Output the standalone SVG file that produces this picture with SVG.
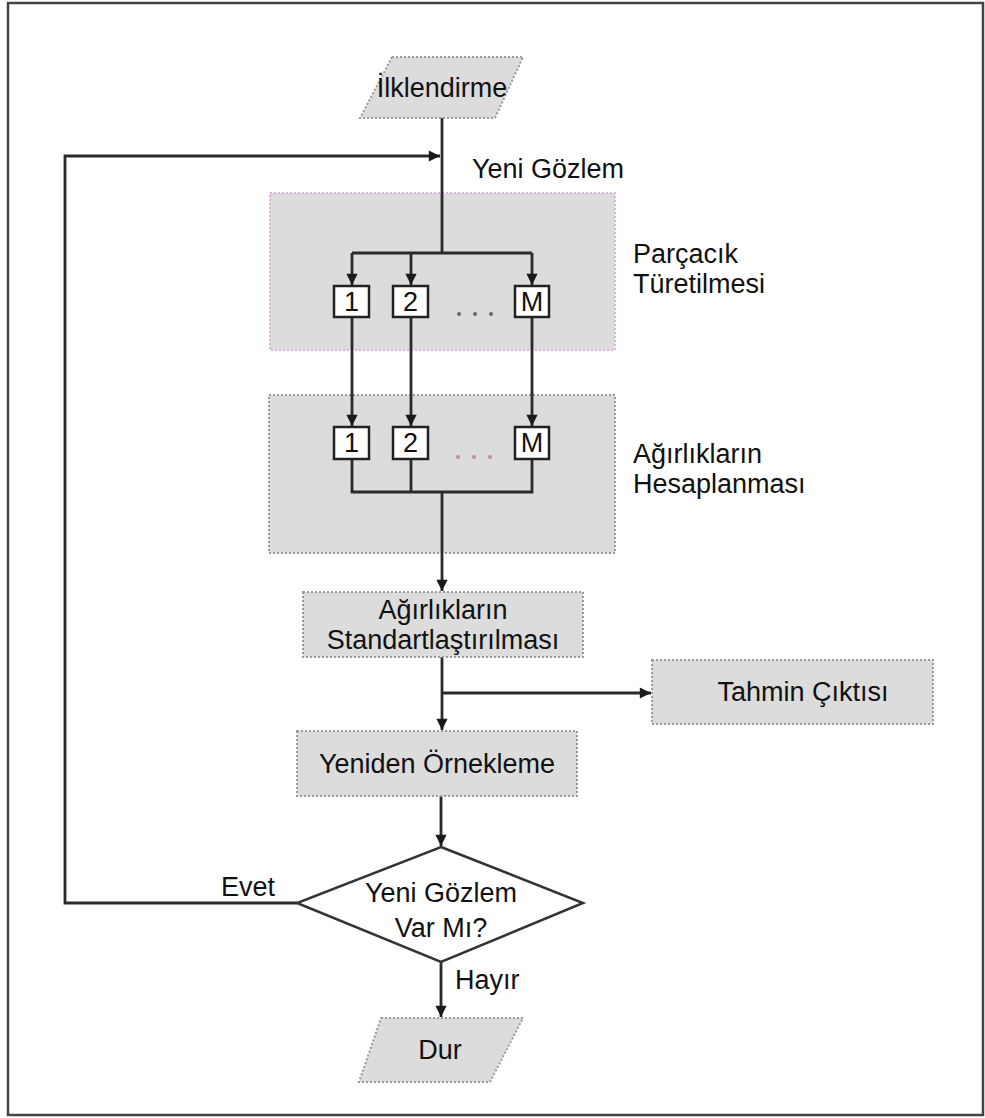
<svg xmlns="http://www.w3.org/2000/svg" width="985" height="1118" viewBox="0 0 985 1118">
<defs>
<style>
text{font-family:"Liberation Sans",Arial,sans-serif;font-size:27px;fill:#111}
.c{text-anchor:middle}
.box{fill:#dcdcdc;stroke:#9a9a9a;stroke-width:2;stroke-dasharray:2 2}
.pink{fill:#dcdcdc;stroke:#e0b0e0;stroke-width:2;stroke-dasharray:2 2}
.sm{fill:#fff;stroke:#222;stroke-width:2.5}
.ln{fill:none;stroke:#2a2a2a;stroke-width:2.8}
</style>
<marker id="ah" viewBox="0 0 10 10" refX="10" refY="5" markerWidth="4.5" markerHeight="4" markerUnits="strokeWidth" orient="auto">
<path d="M0,0 L10,5 L0,10 z" fill="#1a1a1a"/>
</marker>
</defs>
<rect width="985" height="1118" fill="#fff"/>
<rect x="8" y="3" width="975" height="1112" fill="none" stroke="#444" stroke-width="2.5"/>

<g id="group-turetme"><rect class="pink" x="270" y="193" width="345" height="157"/></g>
<g id="group-agirlik"><rect class="box" x="269" y="395" width="346" height="158"/></g>

<g id="connectors">
<line class="ln" x1="442" y1="118" x2="442" y2="253"/>
<polyline class="ln" points="297,903 65,903 65,156 440,156" marker-end="url(#ah)"/>
<line class="ln" x1="352" y1="253" x2="532" y2="253"/>
<line class="ln" x1="352" y1="253" x2="352" y2="285" marker-end="url(#ah)"/>
<line class="ln" x1="411" y1="253" x2="411" y2="285" marker-end="url(#ah)"/>
<line class="ln" x1="532" y1="253" x2="532" y2="285" marker-end="url(#ah)"/>
<line class="ln" x1="352" y1="317" x2="352" y2="426" marker-end="url(#ah)"/>
<line class="ln" x1="411" y1="317" x2="411" y2="426" marker-end="url(#ah)"/>
<line class="ln" x1="532" y1="317" x2="532" y2="426" marker-end="url(#ah)"/>
<polyline class="ln" points="352,460 352,492 532,492 532,460"/>
<line class="ln" x1="411" y1="460" x2="411" y2="492"/>
<line class="ln" x1="442" y1="492" x2="442" y2="591" marker-end="url(#ah)"/>
<line class="ln" x1="442" y1="657" x2="442" y2="730" marker-end="url(#ah)"/>
<line class="ln" x1="442" y1="693" x2="651" y2="693" marker-end="url(#ah)"/>
<line class="ln" x1="441" y1="796" x2="441" y2="846" marker-end="url(#ah)"/>
<line class="ln" x1="441" y1="962" x2="441" y2="1017" marker-end="url(#ah)"/>
</g>

<g id="n-ilk"><polygon class="box" points="392,57 523,57 495,118 360,118"/><text class="c" x="442" y="97">İlklendirme</text></g>
<text x="472" y="178">Yeni Gözlem</text>

<g id="p1"><rect class="sm" x="334" y="286" width="35" height="31"/><text class="c" x="351.5" y="311">1</text></g>
<g id="p2"><rect class="sm" x="393" y="286" width="35" height="31"/><text class="c" x="410.5" y="311">2</text></g>
<g id="pM"><rect class="sm" x="515" y="286" width="34" height="31"/><text class="c" x="532" y="311">M</text></g>
<g fill="#666"><circle cx="459" cy="314" r="2"/><circle cx="475" cy="314" r="2"/><circle cx="491" cy="314" r="2"/></g>
<text x="633" y="263">Parçacık</text>
<text x="633" y="293">Türetilmesi</text>

<g id="w1"><rect class="sm" x="334" y="427" width="35" height="32"/><text class="c" x="351.5" y="452">1</text></g>
<g id="w2"><rect class="sm" x="393" y="427" width="35" height="32"/><text class="c" x="410.5" y="452">2</text></g>
<g id="wM"><rect class="sm" x="515" y="427" width="34" height="32"/><text class="c" x="532" y="452">M</text></g>
<g fill="#d08888"><circle cx="458" cy="457" r="2"/><circle cx="474" cy="457" r="2"/><circle cx="490" cy="457" r="2"/></g>
<text x="633" y="463">Ağırlıkların</text>
<text x="633" y="493">Hesaplanması</text>

<g id="n-std"><rect class="box" x="303" y="592" width="280" height="65"/><text class="c" x="443" y="619">Ağırlıkların</text><text class="c" x="443" y="649">Standartlaştırılması</text></g>
<g id="n-tahmin"><rect class="box" x="652" y="660" width="281" height="64"/><text class="c" x="803" y="701">Tahmin Çıktısı</text></g>
<g id="n-yeniden"><rect class="box" x="297" y="731" width="280" height="65"/><text class="c" x="437" y="773">Yeniden Örnekleme</text></g>
<g id="n-karar"><polygon points="441,847 583,903 441,962 297,903" fill="#fff" stroke="#333" stroke-width="2.5"/><text class="c" x="441" y="902">Yeni Gözlem</text><text class="c" x="441" y="937">Var Mı?</text></g>
<text x="221" y="896">Evet</text>
<text x="455" y="989">Hayır</text>
<g id="n-dur"><polygon class="box" points="381,1018 523,1018 490,1082 359,1082"/><text class="c" x="440" y="1059">Dur</text></g>
</svg>
